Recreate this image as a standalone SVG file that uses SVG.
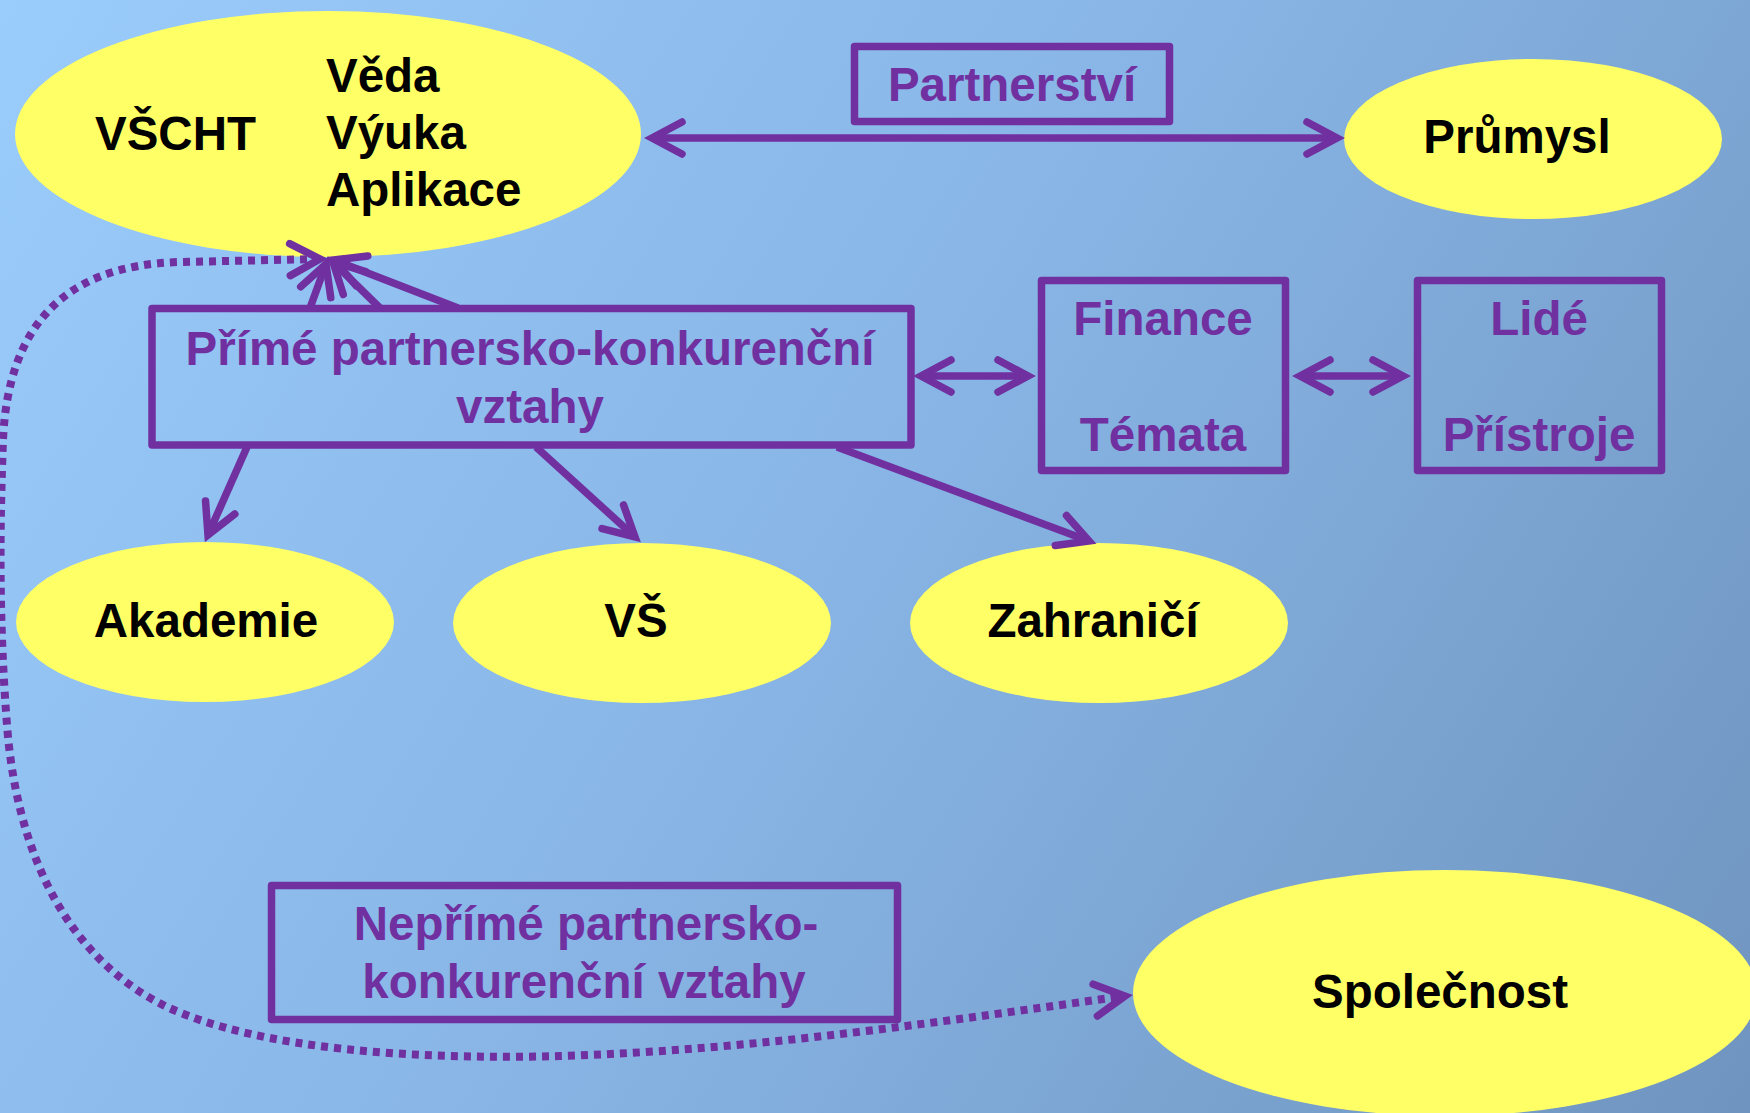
<svg xmlns="http://www.w3.org/2000/svg" width="1750" height="1113" viewBox="0 0 1750 1113">
<defs>
<linearGradient id="bg" gradientUnits="userSpaceOnUse" x1="0" y1="0" x2="1750" y2="1113">
<stop offset="0" stop-color="#9ACCFC"/>
<stop offset="0.5" stop-color="#87B4E4"/>
<stop offset="1" stop-color="#6F94BF"/>
</linearGradient>
<marker id="ah" viewBox="-45 -25 60 50" refX="0" refY="0" markerWidth="60" markerHeight="50" markerUnits="userSpaceOnUse" orient="auto-start-reverse" overflow="visible">
<path d="M -30,-16 L 0,0 L -30,16" fill="none" stroke="#7030A0" stroke-width="7.5" stroke-linecap="round" stroke-linejoin="miter"/>
</marker>
<style>
.ell{fill:#FFFF66;stroke:none}
.box{fill:none;stroke:#7030A0;stroke-width:7.5;stroke-linejoin:round}
.t{font-family:"Liberation Sans",Arial,sans-serif;font-weight:bold;font-size:47.5px}
.bk{fill:#000}
.pu{fill:#7030A0}
.c{text-anchor:middle}
.ln{fill:none;stroke:#7030A0;stroke-width:7.5}
.dot{fill:none;stroke:#7030A0;stroke-width:8;stroke-dasharray:7 6}
</style>
</defs>
<rect x="0" y="0" width="1750" height="1113" fill="url(#bg)"/>

<g id="vscht">
<ellipse class="ell" cx="328" cy="134" rx="313" ry="123"/>
<text class="t bk" x="95" y="150">VŠCHT</text>
<text class="t bk" x="326" y="92">Věda</text>
<text class="t bk" x="326" y="149">Výuka</text>
<text class="t bk" x="326" y="206">Aplikace</text>
</g>
<g id="prumysl">
<ellipse class="ell" cx="1533" cy="139" rx="189" ry="80"/>
<text class="t bk c" x="1517" y="153">Průmysl</text>
</g>
<g id="partnerstvi">
<rect class="box" x="854.5" y="46.5" width="315" height="75"/>
<text class="t pu c" x="1012" y="101">Partnerství</text>
</g>
<g id="prime">
<rect class="box" x="152" y="308.5" width="759" height="136.5"/>
<text class="t pu c" x="530" y="365">Přímé partnersko-konkurenční</text>
<text class="t pu c" x="530" y="423">vztahy</text>
</g>
<g id="finance">
<rect class="box" x="1041.5" y="280.5" width="244" height="190"/>
<text class="t pu c" x="1163" y="335">Finance</text>
<text class="t pu c" x="1163" y="451">Témata</text>
</g>
<g id="lide">
<rect class="box" x="1417.5" y="280.5" width="244" height="190"/>
<text class="t pu c" x="1539" y="335">Lidé</text>
<text class="t pu c" x="1539" y="451">Přístroje</text>
</g>
<g id="akademie">
<ellipse class="ell" cx="205" cy="622" rx="189" ry="80"/>
<text class="t bk c" x="206" y="637">Akademie</text>
</g>
<g id="vs">
<ellipse class="ell" cx="642" cy="623" rx="189" ry="80"/>
<text class="t bk c" x="636" y="637">VŠ</text>
</g>
<g id="zahranici">
<ellipse class="ell" cx="1099" cy="623" rx="189" ry="80"/>
<text class="t bk c" x="1093" y="637">Zahraničí</text>
</g>
<g id="neprime">
<rect class="box" x="271.5" y="885.5" width="626" height="134"/>
<text class="t pu c" x="586" y="940">Nepřímé partnersko-</text>
<text class="t pu c" x="584" y="998">konkurenční vztahy</text>
</g>
<g id="spolecnost">
<ellipse class="ell" cx="1445" cy="993" rx="312" ry="123"/>
<text class="t bk c" x="1440" y="1008">Společnost</text>
</g>

<g id="connectors">
<line class="ln" x1="652" y1="138" x2="1337" y2="138" marker-start="url(#ah)" marker-end="url(#ah)"/>
<line class="ln" x1="921" y1="376" x2="1028" y2="376" marker-start="url(#ah)" marker-end="url(#ah)"/>
<line class="ln" x1="1300" y1="376" x2="1403" y2="376" marker-start="url(#ah)" marker-end="url(#ah)"/>
<line class="ln" x1="247" y1="447" x2="208" y2="535" marker-end="url(#ah)"/>
<line class="ln" x1="536" y1="447" x2="635" y2="537" marker-end="url(#ah)"/>
<line class="ln" x1="837" y1="447" x2="1089" y2="541" marker-end="url(#ah)"/>
<line class="ln" x1="310" y1="308" x2="326" y2="264" marker-end="url(#ah)"/>
<line class="ln" x1="380" y1="308" x2="333" y2="262" marker-end="url(#ah)"/>
<line class="ln" x1="458" y1="308" x2="334" y2="260" marker-end="url(#ah)"/>
<path class="dot" d="M 320,259 L 180,262 C 60,265 8,330 3,440 C 0,520 -2,620 8,737 C 20,860 70,960 167,1007 C 260,1050 420,1060 560,1056 C 760,1050 950,1020 1125,996" marker-start="url(#ah)" marker-end="url(#ah)"/>
</g>
</svg>
